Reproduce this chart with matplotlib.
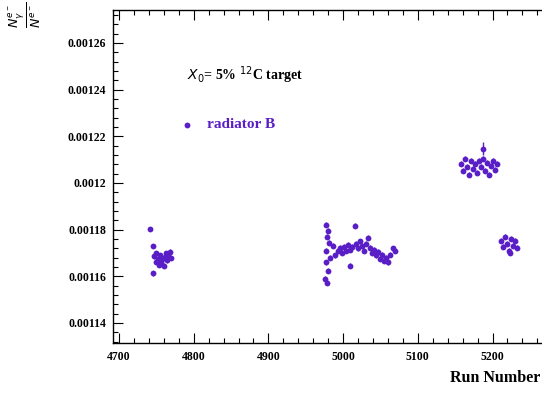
import matplotlib
matplotlib.use("Agg")
import matplotlib.pyplot as plt
from matplotlib.ticker import AutoMinorLocator, FuncFormatter

# ---- data (run number, ratio) ----
runs_a = [4742, 4745, 4746, 4747, 4749, 4750, 4752, 4753, 4755, 4756, 4758, 4760,
          4761, 4763, 4764, 4766, 4768, 4769]
ratio_a = [0.0011803, 0.0011730, 0.0011612, 0.0011685, 0.0011662, 0.0011700,
           0.0011672, 0.0011648, 0.0011690, 0.0011660, 0.0011675, 0.0011645,
           0.0011682, 0.0011700, 0.0011668, 0.0011690, 0.0011705, 0.0011678]

runs_b = [4977, 4980, 4979, 4981, 4977, 4983, 4977, 4980, 4976, 4979, 4987, 4989,
          4993, 4996, 4999, 5001, 5004, 5007, 5009, 5009, 5012, 5016, 5017, 5020,
          5023, 5025, 5028, 5031, 5033, 5036, 5039, 5041, 5044, 5047, 5049, 5052,
          5055, 5058, 5060, 5063, 5067, 5070]
ratio_b = [0.0011821, 0.0011796, 0.0011770, 0.0011744, 0.0011710, 0.0011680,
           0.0011659, 0.0011624, 0.0011590, 0.0011573, 0.0011731, 0.0011689,
           0.0011710, 0.0011723, 0.0011701, 0.0011727, 0.0011710, 0.0011736,
           0.0011646, 0.0011714, 0.0011727, 0.0011817, 0.0011740, 0.0011719,
           0.0011749, 0.0011731, 0.0011710, 0.0011740, 0.0011766, 0.0011723,
           0.0011701, 0.0011714, 0.0011689, 0.0011706, 0.0011676, 0.0011693,
           0.0011667, 0.0011680, 0.0011659, 0.0011693, 0.0011719, 0.0011710]

runs_c = [5158, 5161, 5163, 5166, 5169, 5171, 5174, 5177, 5179, 5182, 5185, 5187,
          5187, 5190, 5193, 5195, 5198, 5201, 5203, 5206]
ratio_c = [0.0012083, 0.0012053, 0.0012104, 0.0012070, 0.0012036, 0.0012096,
           0.0012061, 0.0012083, 0.0012044, 0.0012096, 0.0012070, 0.0012147,
           0.0012104, 0.0012053, 0.0012087, 0.0012036, 0.0012074, 0.0012096,
           0.0012057, 0.0012083]

runs_d = [5211, 5214, 5217, 5219, 5222, 5225, 5227, 5230, 5233, 5223]
ratio_d = [0.0011753, 0.0011727, 0.0011770, 0.0011740, 0.0011710, 0.0011761,
           0.0011731, 0.0011753, 0.0011723, 0.0011701]

err_typ = 0.0000010
err_big = 0.0000028

y_ticks = [0.00114, 0.00116, 0.00118, 0.0012, 0.00122, 0.00124, 0.00126]
x_ticks = [4700, 4800, 4900, 5000, 5100, 5200]

col = "#5a1ec6"
font = "Liberation Serif"

fig = plt.figure(figsize=(5.42, 4.0), dpi=100)
ax = fig.add_axes([113/542, 1-343/400, (549-113)/542, (343-10)/400])

runs = runs_a + runs_b + runs_c + runs_d
ratio = ratio_a + ratio_b + ratio_c + ratio_d
errs = [err_typ] * len(runs)
# the spike point of the third group has a larger error bar
errs[len(runs_a) + len(runs_b) + 11] = err_big

ax.errorbar(runs, ratio, yerr=errs, fmt="o", color=col, ms=4.2, mew=0,
            elinewidth=1.0, capsize=0)

ax.set_xlim(4692, 5275.6)
ax.set_ylim(0.0011314, 0.0012741)

ax.set_xticks(x_ticks)
ax.xaxis.set_minor_locator(AutoMinorLocator(5))
ax.set_yticks(y_ticks)
ax.yaxis.set_minor_locator(AutoMinorLocator(5))
ax.yaxis.set_major_formatter(FuncFormatter(lambda v, p: ("%.5f" % v).rstrip("0")))

ax.tick_params(which="both", direction="in", top=True, right=False, width=0.8)
ax.tick_params(which="major", length=7)
ax.tick_params(which="minor", length=3.5)
ax.tick_params(axis="y", labelsize=8.5, pad=5)
ax.tick_params(axis="x", labelsize=8.5, pad=6)
for lab in ax.get_xticklabels() + ax.get_yticklabels():
    lab.set_fontfamily(font)
    lab.set_fontweight("bold")
for s in ax.spines.values():
    s.set_linewidth(1.0)

# annotations
fig.text(187/542, 1-75/400, r"$X_0$= 5% $^{12}$C target", fontsize=10,
         family=font, fontweight="bold", va="center", ha="left")
ax.plot([(187-113)/436], [(343-125)/333], "o", color=col, ms=4.2, mew=0,
        transform=ax.transAxes)
fig.text(207/542, 1-125/400, "radiator B", fontsize=11, family=font,
         fontweight="bold", color=col, va="center", ha="left")

# axis titles
fig.text(0.012, 0.995, r"$\frac{N^{e^-}_{\gamma}}{N^{e^-}}$", rotation=90,
         fontsize=13, ha="left", va="top")
fig.text(450/542, 1-378/400, "Run Number", fontsize=11.5, family=font,
         fontweight="bold", ha="left", va="center")

fig.savefig("out.png", dpi=100)
